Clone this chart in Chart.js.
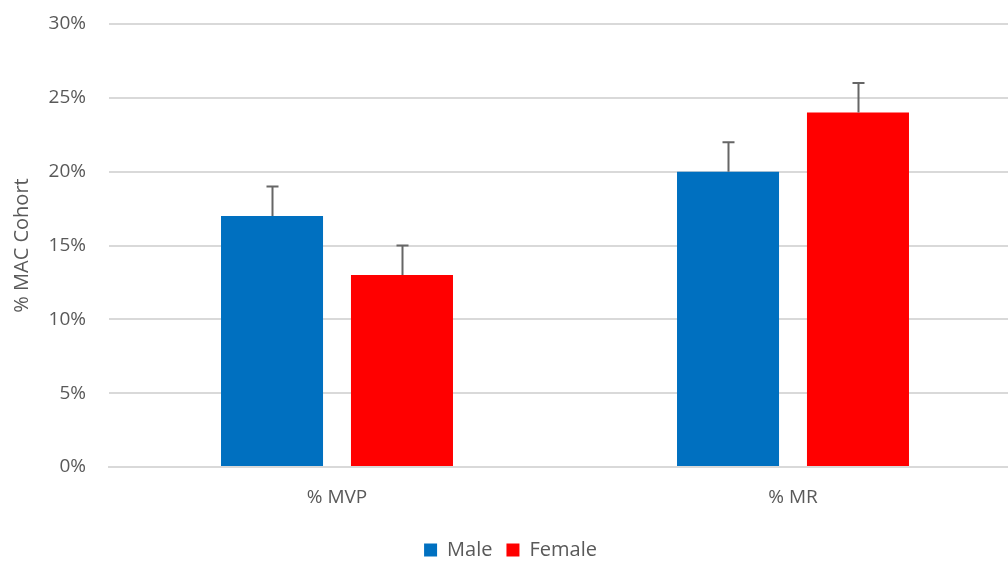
<!DOCTYPE html>
<html>
<head>
<meta charset="utf-8">
<script src="https://cdn.jsdelivr.net/npm/chart.js@4.4.1/dist/chart.umd.min.js"></script>
<style>
	body { margin: 0; background: #fff; overflow: hidden; }
	#wrap { width: 1021px; height: 561px; }
</style>
</head>
<body>
<div id="wrap"><canvas id="chart"></canvas></div>
<script>
var categories = ["% MVP", "% MR"];
var maleValues = [17, 20];
var femaleValues = [13, 24];
var maleErrors = [2, 2];
var femaleErrors = [2, 2];
var yTicks = [0, 5, 10, 15, 20, 25, 30];

//draw upper error bars on top of each bar
var errorBars = {
	id: 'errorBars',
	afterDatasetsDraw: function(chart){
		var ctx = chart.ctx;
		var yScale = chart.scales.y;
		chart.data.datasets.forEach(function(ds, i){
			var meta = chart.getDatasetMeta(i);
			meta.data.forEach(function(bar, j){
				var top = yScale.getPixelForValue(ds.data[j] + ds.errors[j]);
				var x = Math.round(bar.x) + 0.5;
				ctx.save();
				ctx.strokeStyle = '#666666';
				ctx.lineWidth = 2;
				ctx.beginPath();
				ctx.moveTo(x, bar.y);
				ctx.lineTo(x, top);
				ctx.moveTo(x - 6, top);
				ctx.lineTo(x + 6, top);
				ctx.stroke();
				ctx.restore();
			});
		});
	}
};

var ctx = document.getElementById('chart').getContext('2d');
var myChart = new Chart(ctx, {
	type: 'bar',
	data: {
		labels: categories,
		datasets: [{
			label: 'Male',
			data: maleValues,
			errors: maleErrors,
			backgroundColor: '#0070C0',
			categoryPercentage: 0.57,
			barPercentage: 0.785
		}, {
			label: 'Female',
			data: femaleValues,
			errors: femaleErrors,
			backgroundColor: '#FF0000',
			categoryPercentage: 0.57,
			barPercentage: 0.785
		}]
	},
	options: {
		responsive: true,
		maintainAspectRatio: false,
		animation: false,
		layout: { padding: { top: 24, right: 0, left: 0, bottom: -9 } },
		plugins: {
			tooltip: { enabled: false },
			legend: {
				position: 'bottom',
				labels: {
					boxWidth: 13,
					boxHeight: 13,
					padding: 14,
					color: '#595959',
					font: { family: 'Open Sans', size: 20 }
				}
			}
		},
		scales: {
			x: {
				grid: { display: false },
				border: { color: '#d9d9d9', width: 2 },
				ticks: {
					color: '#595959',
					padding: 11,
					font: { family: 'Open Sans', size: 19 }
				},
				afterFit: function(scale){ scale.height = 59; }
			},
			y: {
				min: 0,
				max: 30,
				afterBuildTicks: function(scale){
					scale.ticks = yTicks.map(function(v){ return { value: v }; });
				},
				//invisible tick marks keep the labels away from the plot
				grid: { color: '#d9d9d9', lineWidth: 2, drawTicks: true, tickLength: 22, tickColor: 'rgba(0,0,0,0)' },
				border: { display: false },
				ticks: {
					color: '#595959',
					padding: 1,
					font: { family: 'Open Sans', size: 19 },
					callback: function(v){ return v + '%'; }
				},
				title: {
					display: true,
					text: '% MAC Cohort',
					color: '#595959',
					padding: { top: 10, bottom: 0 },
					font: { family: 'Open Sans', size: 20 }
				},
				afterFit: function(scale){ scale.width = 109; }
			}
		}
	},
	plugins: [errorBars]
});
</script>
</body>
</html>
